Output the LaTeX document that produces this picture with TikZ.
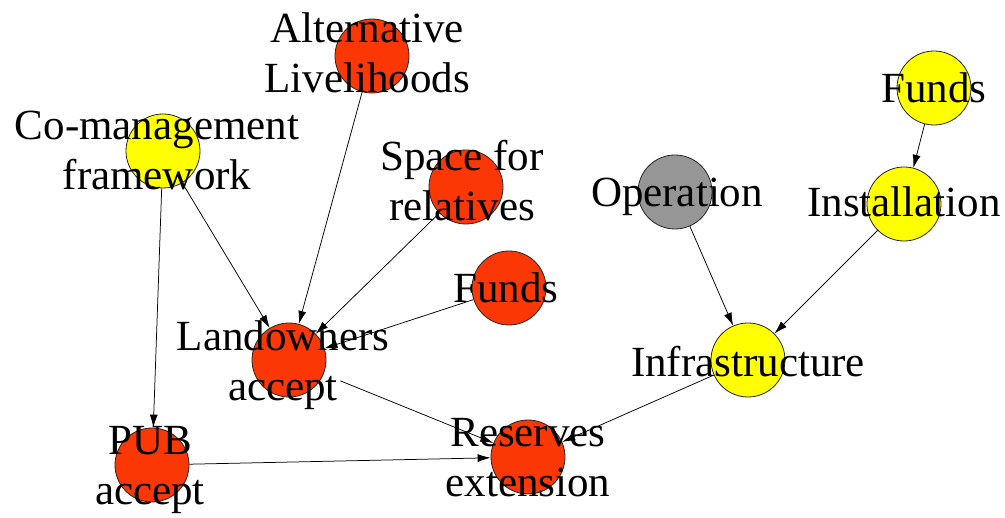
\documentclass[tikz,border=0pt]{standalone}
\usepackage{fontspec}
\setmainfont{Liberation Serif}
\usetikzlibrary{arrows.meta}
\definecolor{nodered}{RGB}{250,55,5}
\definecolor{nodeyellow}{RGB}{255,255,0}
\definecolor{nodegray}{RGB}{150,150,150}
\begin{document}
\begin{tikzpicture}[x=1pt, y=-1pt, line width=0.8pt,
    dot/.style={circle, draw=black!85, line width=0.8pt, minimum size=74pt, inner sep=0pt},
    lbl/.style={anchor=base, align=center, font=\fontsize{43}{50}\selectfont, inner sep=0pt},
    link/.style={-{Latex[length=13pt,width=8pt]}, line width=0.75pt}]
    \useasboundingbox (0,0) rectangle (1005,518);
    % circles
    \node[dot, fill=nodered] (alt) at (372,56) {};
    \node[dot, fill=nodeyellow] (comgmt) at (163,151) {};
    \node[dot, fill=nodered] (space) at (466,187) {};
    \node[dot, fill=nodered] (fundsA) at (509,288) {};
    \node[dot, fill=nodered] (land) at (289,360) {};
    \node[dot, fill=nodered] (pub) at (152,465) {};
    \node[dot, fill=nodered] (reserves) at (528,457) {};
    \node[dot, fill=nodegray] (oper) at (675,192) {};
    \node[dot, fill=nodeyellow] (fundsB) at (934,88) {};
    \node[dot, fill=nodeyellow] (install) at (904,204) {};
    \node[dot, fill=nodeyellow] (infra) at (748,360) {};
    % connectors
    \draw[link] (alt) -- (land);
    \draw[link] (comgmt) -- (land);
    \draw[link] (space) -- (land);
    \draw[link] (fundsA) -- (land);
    \draw[link] (comgmt) -- (pub);
    \draw[link] (pub) -- (reserves);
    \draw[link, shorten <=18pt] (land) -- (reserves);
    \draw[link] (infra) -- (reserves);
    \draw[link] (oper) -- (infra);
    \draw[link] (install) -- (infra);
    \draw[link] (fundsB) -- (install);
    % labels (base = last line)
    \node[lbl] (altT) at (367,93) {Alternative\\Livelihoods};
    \node[lbl] (comgmtT) at (157,190) {Co-management\\framework};
    \node[lbl] (spaceT) at (462,221) {Space for\\relatives};
    \node[lbl] (fundsAT) at (506,303) {Funds};
    \node[lbl] (landT) at (283,401) {Landowners\\accept};
    \node[lbl] (pubT) at (150,505) {PUB\\accept};
    \node[lbl] (reservesT) at (528,497) {Reserves\\extension};
    \node[lbl] (operT) at (677,207) {Operation};
    \node[lbl] (fundsBT) at (934,103) {Funds};
    \node[lbl] (installT) at (904,217) {Installation};
    \node[lbl] (infraT) at (748,377) {Infrastructure};
\end{tikzpicture}
\end{document}
